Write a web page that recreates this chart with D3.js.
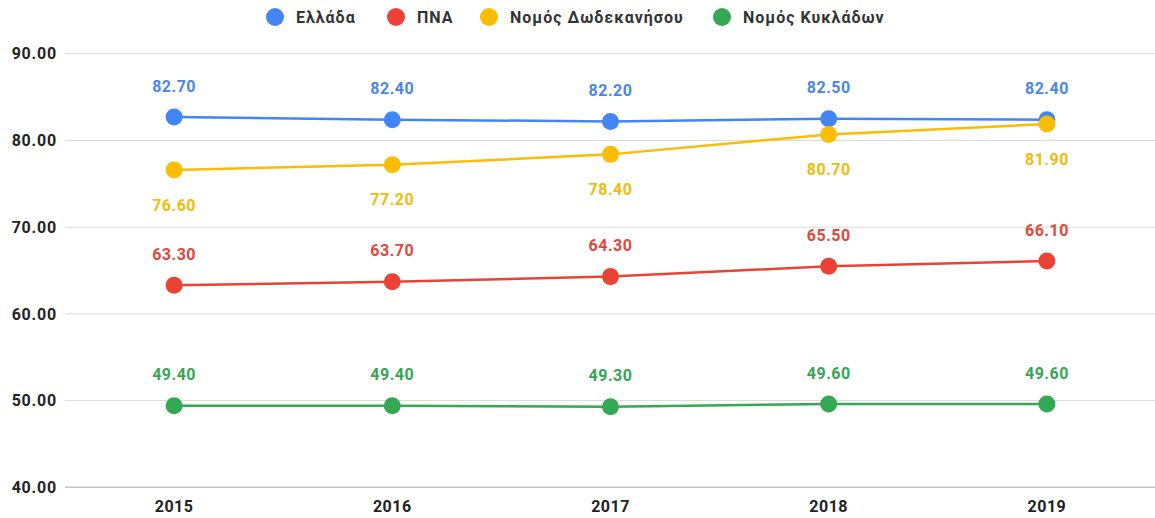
<!DOCTYPE html>
<html><head><meta charset="utf-8">
<script src="https://cdn.jsdelivr.net/npm/d3@7"></script>
<style>body{margin:0;background:#fff}svg{display:block;font-family:Roboto,"Noto Sans",sans-serif}</style>
</head><body><svg id="c" width="1155" height="518"></svg>
<script>
const years = ["2015","2016","2017","2018","2019"];
const seriesNames = ["Ελλάδα","ΠΝΑ","Νομός Δωδεκανήσου","Νομός Κυκλάδων"];
const greece = [82.7,82.4,82.2,82.5,82.4];
const pna = [63.3,63.7,64.3,65.5,66.1];
const dodecanese = [76.6,77.2,78.4,80.7,81.9];
const cyclades = [49.4,49.4,49.3,49.6,49.6];
const yTicks = [40,50,60,70,80,90];
const colors = ["#4285F4","#EA4335","#FBBC04","#34A853"];
const labelColors = ["#4a86e8","#e2463a","#f2bb0a","#36a653"];
const labelPos = ["above","above","below","above"];

const series = [greece,pna,dodecanese,cyclades].map((v,i)=>({name:seriesNames[i],values:v,color:colors[i],lc:labelColors[i],pos:labelPos[i]}));

const svg = d3.select("#c");
const x = d3.scaleBand().domain(years).range([65,1156]);
const y = d3.scaleLinear().domain([40,90]).range([487.3,53.8]);
const cx = d => x(d)+x.bandwidth()/2;

// gridlines
svg.append("g").selectAll("line").data(yTicks).join("line")
  .attr("x1",65).attr("x2",1155).attr("y1",d=>y(d)).attr("y2",d=>y(d))
  .attr("stroke",d=>d===40?"#c4c4c4":"#d9d9d9").attr("stroke-width",d=>d===40?1.5:1);

// y labels
svg.append("g").selectAll("text").data(yTicks).join("text")
  .attr("x",57).attr("y",d=>y(d)).attr("dy","0.35em").attr("text-anchor","end")
  .attr("font-size",16).attr("font-weight","bold").attr("fill","#222").attr("letter-spacing",0.8)
  .text(d=>d3.format(".2f")(d));

// x labels
svg.append("g").selectAll("text").data(years).join("text")
  .attr("x",d=>cx(d)).attr("y",506).attr("dy","0.35em").attr("text-anchor","middle")
  .attr("font-size",16).attr("font-weight","bold").attr("fill","#222").attr("letter-spacing",0.5)
  .text(d=>d);

const line = d3.line().x((d,i)=>cx(years[i])).y(d=>y(d));

const draw = [0,2,1,3];
draw.forEach(k=>{
  const s = series[k];
  const g = svg.append("g");
  g.append("path").attr("d",line(s.values)).attr("fill","none").attr("stroke",s.color).attr("stroke-width",2.5);
  g.selectAll("circle").data(s.values).join("circle")
    .attr("cx",(d,i)=>cx(years[i])).attr("cy",d=>y(d)).attr("r",8.5).attr("fill",s.color);
});
series.forEach(s=>{
  svg.append("g").selectAll("text").data(s.values).join("text")
    .attr("x",(d,i)=>cx(years[i])).attr("y",d=>y(d)+(s.pos==="above"?-31:35))
    .attr("dy","0.35em").attr("text-anchor","middle")
    .attr("font-size",16).attr("font-weight","bold").attr("fill",s.lc).attr("letter-spacing",0.5)
    .text(d=>d3.format(".2f")(d));
});

// legend
const legX = [275,396,489,722];
const lg = svg.append("g");
series.forEach((s,i)=>{
  lg.append("circle").attr("cx",legX[i]).attr("cy",17).attr("r",9).attr("fill",s.color);
  lg.append("text").attr("x",legX[i]+21).attr("y",17).attr("dy","0.35em")
    .attr("font-size",16).attr("font-weight","bold").attr("fill","#333").attr("letter-spacing",1).text(s.name);
});
</script></body></html>
